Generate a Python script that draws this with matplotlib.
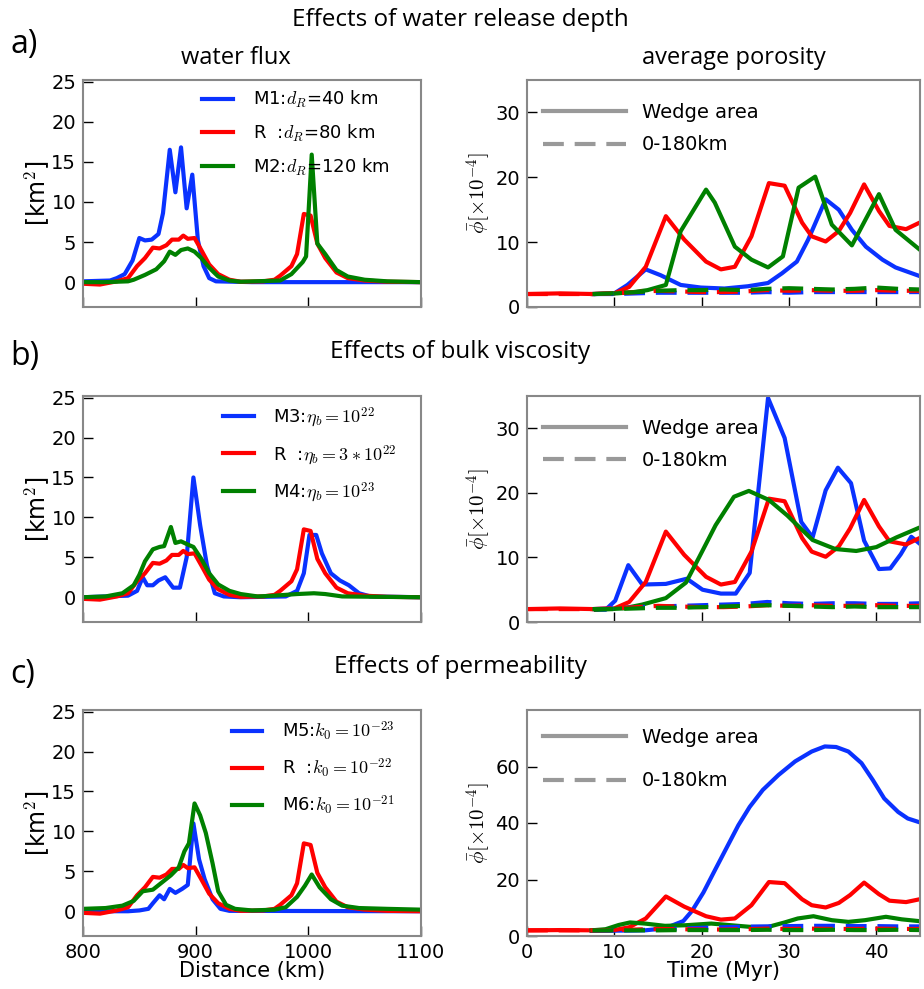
import numpy as np
import matplotlib
matplotlib.use("Agg")
import matplotlib.pyplot as plt

plt.rcParams["mathtext.fontset"] = "cm"
plt.rcParams["font.family"] = ["DejaVu Sans"]

# ---------------- water flux (distance in km) ----------------
# reference run R (same in all three rows)
d_R = [800, 815, 830, 840, 848, 855, 862, 868, 874, 879, 885, 889, 893, 899, 905, 912, 920,
       930, 940, 960, 970, 975, 985, 990, 996, 1002, 1008, 1015, 1025, 1035, 1050, 1070, 1100]
f_R = [-0.2, -0.3, 0.1, 0.5, 2.0, 3.0, 4.3, 4.2, 4.6, 5.3, 5.3, 5.8, 5.4, 5.5, 4.0, 2.2, 1.0,
       0.3, 0.05, 0.1, 0.3, 0.8, 2.0, 3.5, 8.5, 8.3, 4.8, 3.0, 1.2, 0.5, 0.2, 0.05, 0.0]

# a) M1, M2
d_M1 = [800, 824, 830, 837, 844, 850, 855, 861, 867, 871, 877, 882, 887, 892, 897, 902, 907,
        912, 918, 950, 1100]
f_M1 = [0.1, 0.2, 0.5, 1.0, 2.7, 5.5, 5.2, 5.3, 6.0, 8.6, 16.5, 11.2, 16.8, 9.2, 13.4, 5.2, 2.0,
        0.5, 0.1, 0.0, 0.0]
d_M2 = [800, 820, 840, 845, 855, 865, 872, 877, 882, 887, 893, 899, 905, 912, 920, 930, 940,
        975, 985, 995, 998, 1003, 1008, 1015, 1025, 1035, 1050, 1070, 1100]
f_M2 = [0.0, 0.0, 0.1, 0.3, 0.9, 1.6, 2.6, 3.8, 3.4, 4.0, 4.2, 3.8, 3.0, 1.8, 0.7, 0.2, 0.05,
        0.2, 1.0, 2.5, 3.2, 15.9, 4.8, 3.5, 1.5, 0.7, 0.3, 0.1, 0.0]

# b) M3, M4
d_M3 = [800, 840, 848, 853, 857, 862, 867, 873, 880, 886, 892, 898, 904, 910, 917, 925, 940,
        980, 990, 996, 1001, 1007, 1012, 1020, 1028, 1036, 1045, 1055, 1100]
f_M3 = [0.0, 0.2, 0.8, 2.5, 1.5, 1.5, 2.1, 2.5, 1.2, 1.2, 5.0, 15.0, 9.0, 4.0, 0.5, 0.1, 0.0,
        0.1, 0.8, 3.0, 7.8, 7.8, 5.5, 3.0, 2.1, 1.5, 0.5, 0.1, 0.0]
d_M4 = [800, 820, 835, 845, 850, 855, 862, 868, 872, 878, 882, 887, 893, 898, 905, 912, 920,
        930, 940, 955, 970, 990, 1005, 1015, 1030, 1100]
f_M4 = [0.0, 0.1, 0.5, 1.5, 2.8, 4.5, 6.0, 6.3, 6.4, 8.8, 6.8, 7.0, 6.6, 6.3, 4.8, 3.0, 1.6,
        0.8, 0.4, 0.1, 0.2, 0.4, 0.5, 0.4, 0.1, 0.0]

# c) M5, M6
d_M5 = [800, 840, 850, 858, 862, 868, 872, 877, 882, 888, 893, 898, 903, 908, 915, 922, 930, 1100]
f_M5 = [0.0, 0.0, 0.1, 0.3, 1.0, 2.0, 1.5, 2.8, 2.3, 2.8, 3.3, 11.0, 6.5, 4.0, 1.5, 0.3, 0.05, 0.0]
d_M6 = [800, 820, 835, 845, 853, 862, 870, 878, 885, 890, 894, 899, 904, 909, 915, 920, 927,
        935, 950, 970, 980, 990, 997, 1003, 1010, 1020, 1030, 1045, 1070, 1100]
f_M6 = [0.3, 0.4, 0.7, 1.3, 2.5, 2.7, 3.6, 4.5, 5.5, 7.5, 8.5, 13.5, 12.0, 9.8, 6.0, 2.5, 0.8,
        0.3, 0.1, 0.2, 0.5, 1.8, 3.2, 4.6, 3.0, 1.5, 0.7, 0.4, 0.3, 0.2]

# ---------------- average porosity (time in Myr) ----------------
t_R = [0, 3.8, 7.6, 10, 11.7, 13.6, 15.9, 18, 20.5, 22.2, 23.8, 25.7, 27.7, 29.5, 31.5, 32.6,
       34.2, 35.7, 37, 38.6, 40.3, 41.5, 43.4, 45.1]
p_R = [2.0, 2.1, 2.0, 2.1, 3.1, 6.2, 14.0, 10.4, 7.0, 5.8, 6.2, 10.9, 19.1, 18.7, 13.0, 10.9,
       10.1, 11.7, 14.5, 18.9, 14.8, 12.5, 12.0, 13.1]

t_M1 = [7.6, 10, 11.5, 13.6, 15.3, 17.6, 19.9, 22.6, 25.3, 27.6, 29.2, 30.9, 32.2, 34.2, 35.7,
        37.2, 38.8, 40.7, 42.2, 45.1]
p_M1 = [2.0, 2.1, 3.4, 5.8, 4.9, 3.4, 3.0, 2.85, 3.2, 3.7, 5.2, 7.0, 10.4, 16.6, 15.0, 11.9,
        9.3, 7.3, 6.1, 4.7]
t_M2 = [7.9, 10.3, 12.2, 13.8, 15.9, 17.6, 20.5, 21.5, 23.8, 25.7, 27.6, 29.3, 31.1, 33, 34.9,
        37.2, 40.3, 42.2, 45.1]
p_M2 = [2.0, 2.1, 2.3, 2.6, 3.4, 11.7, 18.1, 16.1, 9.3, 7.3, 6.1, 7.8, 18.4, 20.1, 12.7, 9.5,
        17.4, 11.9, 8.7]

t_M3 = [7.9, 9.0, 10.1, 11.6, 13.2, 15.9, 18.3, 20.1, 22.2, 23.9, 25.5, 27.6, 29.5, 31.4, 32.7,
        34.2, 35.6, 37.1, 38.6, 40.3, 41.6, 42.8, 44, 44.9]
p_M3 = [1.9, 1.9, 3.3, 8.8, 5.8, 5.9, 6.7, 5.0, 4.4, 4.4, 7.6, 34.7, 28.5, 15.5, 13.1, 20.4,
        23.9, 21.5, 12.6, 8.2, 8.3, 10.5, 13.2, 12.2]
t_M4 = [7.9, 11, 13.2, 15.9, 18.2, 19.7, 21.6, 23.7, 25.4, 27.7, 29.8, 32.7, 35.3, 37.7, 40,
        42.3, 44.9]
p_M4 = [1.9, 2.1, 2.7, 3.7, 6.1, 10.0, 15.0, 19.4, 20.3, 18.9, 16.5, 12.7, 11.3, 11.0, 11.6,
        13.1, 14.6]

t_M5 = [7.4, 13.5, 15.8, 17.9, 18.9, 20.2, 21.5, 22.9, 24.2, 25.5, 27, 28.8, 30.7, 32.6, 34.1,
        35.4, 36.8, 38.3, 39.6, 40.9, 42.5, 43.6, 44.8]
p_M5 = [1.8, 2.0, 2.7, 5.3, 8.9, 15.4, 23.2, 31.5, 39.2, 45.7, 51.7, 57.0, 61.8, 65.3, 67.1,
        66.9, 65.3, 61.2, 55.2, 48.7, 43.9, 41.6, 40.4]
t_M6 = [7.4, 9, 10.5, 11.8, 13.5, 15.8, 18.1, 21.1, 23.4, 25.7, 27.6, 29.5, 31, 32.8, 34.9,
        36.8, 38.7, 41.1, 42.9, 44.8]
p_M6 = [2.0, 2.4, 3.9, 4.8, 4.4, 3.6, 3.8, 4.4, 3.8, 3.2, 3.2, 4.8, 6.2, 7.0, 5.6, 5.0, 5.6,
        6.8, 5.9, 5.3]

# 0-180 km averages (dashed)
t_dR = [0, 5, 7.5, 10, 12.5, 15, 17.5, 20, 22.5, 25, 27.5, 30, 32.5, 35, 37.5, 40, 42.5, 45]
q_R = [2.0, 2.0, 2.0, 2.1, 2.3, 2.5, 2.4, 2.3, 2.3, 2.4, 2.6, 2.5, 2.6, 2.5, 2.5, 2.6, 2.5, 2.5]
t_dM = [7.5, 10, 12.5, 15, 17.5, 20, 22.5, 25, 27.5, 30, 32.5, 35, 37.5, 40, 42.5, 45]
q_M1 = [2.0, 2.0, 2.1, 2.2, 2.2, 2.2, 2.2, 2.2, 2.3, 2.2, 2.3, 2.3, 2.3, 2.3, 2.3, 2.3]
q_M2 = [2.0, 2.1, 2.3, 2.5, 2.6, 2.6, 2.7, 2.6, 2.8, 2.9, 2.8, 2.7, 2.8, 3.0, 2.8, 2.7]
q_M3 = [2.0, 2.1, 2.3, 2.4, 2.5, 2.6, 2.7, 2.8, 3.1, 2.9, 2.8, 2.9, 2.9, 2.8, 2.8, 2.9]
q_M4 = [2.0, 2.0, 2.1, 2.2, 2.2, 2.3, 2.4, 2.5, 2.6, 2.5, 2.4, 2.3, 2.4, 2.3, 2.3, 2.3]
q_M5 = [2.0, 2.0, 2.1, 2.3, 2.6, 2.9, 3.1, 3.3, 3.4, 3.5, 3.6, 3.6, 3.5, 3.5, 3.4, 3.4]
q_M6 = [2.0, 2.0, 2.0, 2.0, 2.1, 2.1, 2.1, 2.1, 2.2, 2.1, 2.1, 2.2, 2.1, 2.1, 2.2, 2.1]

labels_a = ["M1:$d_R$=40 km", "R  :$d_R$=80 km", "M2:$d_R$=120 km"]
labels_b = [r"M3:$\eta_b=10^{22}$", r"R  :$\eta_b=3*10^{22}$", r"M4:$\eta_b=10^{23}$"]
labels_c = [r"M5:$k_0=10^{-23}$", r"R  :$k_0=10^{-22}$", r"M6:$k_0=10^{-21}$"]

headers = ["Effects of water release depth", "Effects of bulk viscosity", "Effects of permeability"]
letters = ["a)", "b)", "c)"]

BLUE, RED, GREEN = "#0a32ff", "#ff0000", "#008000"
GRAY = "#999999"
LW = 3.0
DASH = (0, (5, 2.6))

W, H = 924, 989
fig = plt.figure(figsize=(W / 100, H / 100), dpi=100)


def box(x0, top, x1, bottom):
    return [x0 / W, 1 - bottom / H, (x1 - x0) / W, (bottom - top) / H]


def style(ax):
    for s in ax.spines.values():
        s.set_color("#888888")
        s.set_linewidth(1.5)
    ax.tick_params(direction="in", length=7, width=1, labelsize=14,
                   top=False, right=False, pad=5)


rows = [
    dict(top=80, bottom=307, flux=[(d_M1, f_M1), (d_R, f_R), (d_M2, f_M2)],
         por=[(t_M1, p_M1), (t_R, p_R), (t_M2, p_M2)],
         dash=[(t_dM, q_M1), (t_dR, q_R), (t_dM, q_M2)],
         labels=labels_a, ptop=35, pticks=[0, 10, 20, 30], legx=0.352, legsp=0.7),
    dict(top=396, bottom=622, flux=[(d_M3, f_M3), (d_R, f_R), (d_M4, f_M4)],
         por=[(t_M3, p_M3), (t_R, p_R), (t_M4, p_M4)],
         dash=[(t_dM, q_M3), (t_dR, q_R), (t_dM, q_M4)],
         labels=labels_b, ptop=35, pticks=[0, 10, 20, 30], legx=0.414, legsp=0.75),
    dict(top=710, bottom=936, flux=[(d_M5, f_M5), (d_R, f_R), (d_M6, f_M6)],
         por=[(t_M5, p_M5), (t_R, p_R), (t_M6, p_M6)],
         dash=[(t_dM, q_M5), (t_dR, q_R), (t_dM, q_M6)],
         labels=labels_c, ptop=80, pticks=[0, 20, 40, 60], legx=0.44, legsp=0.75),
]
colors = [BLUE, RED, GREEN]

for i, r in enumerate(rows):
    # water flux
    axl = fig.add_axes(box(83, r["top"], 421, r["bottom"]))
    for (x, y), c, lab in zip(r["flux"], colors, r["labels"]):
        axl.plot(x, y, color=c, lw=LW, label=lab)
    axl.set_xlim(800, 1100)
    axl.set_ylim(-3.1, 25.2)
    axl.set_xticks([800, 900, 1000, 1100])
    axl.set_yticks([0, 5, 10, 15, 20, 25])
    axl.set_ylabel("[km$^2$]", fontsize=17, labelpad=0)
    style(axl)
    axl.legend(loc="upper left", bbox_to_anchor=(r["legx"], 0.96), frameon=False,
               fontsize=13, handlelength=1.7, handletextpad=1.1,
               labelspacing=r["legsp"], borderpad=0, borderaxespad=0)

    # average porosity
    axr = fig.add_axes(box(527, r["top"], 920, r["bottom"]))
    for (x, y), c in zip(r["por"], colors):
        axr.plot(x, y, color=c, lw=LW)
    for (x, y), c in zip(r["dash"], colors):
        axr.plot(x, y, color=c, lw=LW, linestyle=DASH)
    axr.set_xlim(0, 45)
    axr.set_ylim(0, r["ptop"])
    axr.set_xticks([0, 10, 20, 30, 40])
    axr.set_yticks(r["pticks"])
    axr.set_ylabel(r"$\bar{\phi}[\times10^{-4}]$", fontsize=15, labelpad=2)
    style(axr)
    h1, = axr.plot([], [], color=GRAY, lw=LW)
    h2, = axr.plot([], [], color=GRAY, lw=LW, linestyle=DASH)
    axr.legend([h1, h2], ["Wedge area", "0-180km"], loc="upper left",
               bbox_to_anchor=(0.04, 0.9 if i < 2 else 0.92), frameon=False, fontsize=14,
               handlelength=4.3, handletextpad=0.8,
               labelspacing=0.7 if i < 2 else 1.25, borderpad=0, borderaxespad=0)

    if i < 2:
        axl.tick_params(labelbottom=False)
        axr.tick_params(labelbottom=False)
    else:
        axl.set_xlabel("Distance (km)", fontsize=15, labelpad=-1)
        axr.set_xlabel("Time (Myr)", fontsize=15, labelpad=-1)

# column titles
fig.text(236 / W, 1 - 58 / H, "water flux", ha="center", va="center",
         fontsize=17, family="Open Sans")
fig.text(734 / W, 1 - 58 / H, "average porosity", ha="center", va="center",
         fontsize=17, family="Open Sans")

hdr_y = [20, 352, 667]
let_y = [45, 357, 674]
for txt, y in zip(headers, hdr_y):
    fig.text(460 / W, 1 - y / H, txt, ha="center", va="center", fontsize=17.5, family="Open Sans")
for txt, y in zip(letters, let_y):
    fig.text(10 / W, 1 - y / H, txt, ha="left", va="center", fontsize=23, family="Open Sans")

fig.savefig("out.png", dpi=100)
